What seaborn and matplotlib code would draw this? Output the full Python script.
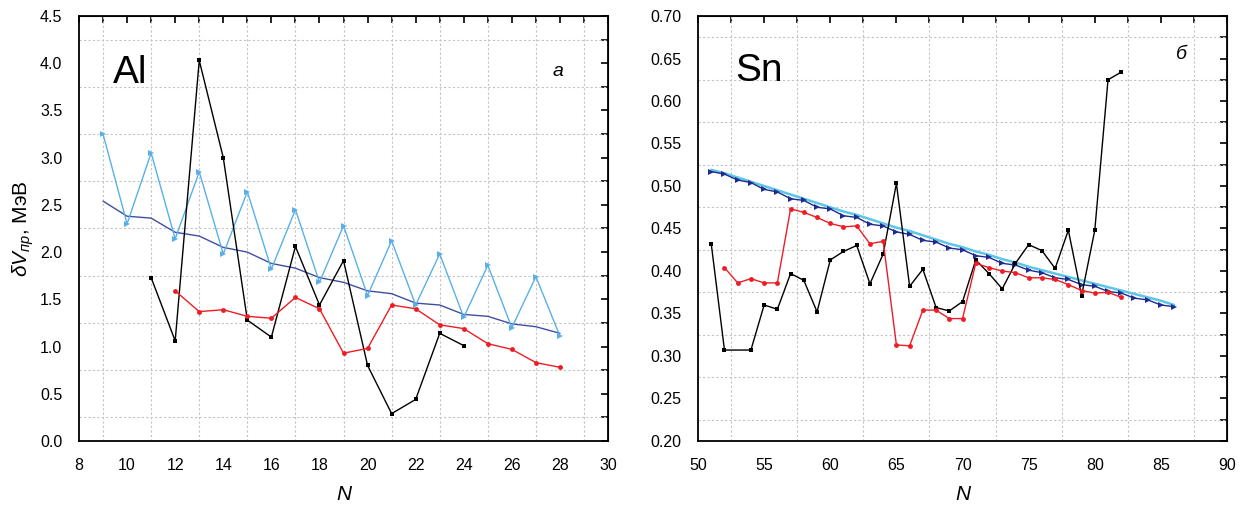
import numpy as np
import pandas as pd
import matplotlib
matplotlib.use("Agg")
import matplotlib.pyplot as plt
from matplotlib.ticker import MultipleLocator, FormatStrFormatter
import seaborn as sns

# Al panel
al_n_all = list(range(9, 29))
al_tri = [3.25, 2.30, 3.05, 2.14, 2.85, 1.98, 2.64, 1.82, 2.45, 1.68,
          2.28, 1.54, 2.12, 1.44, 1.98, 1.31, 1.86, 1.20, 1.74, 1.11]
al_smooth = [2.54, 2.38, 2.36, 2.21, 2.17, 2.05, 2.00, 1.88, 1.83, 1.73,
             1.68, 1.59, 1.56, 1.46, 1.44, 1.34, 1.32, 1.24, 1.21, 1.14]
al_n_black = list(range(11, 25))
al_black = [1.73, 1.06, 4.03, 3.00, 1.28, 1.10, 2.06, 1.44, 1.91, 0.80,
            0.29, 0.44, 1.14, 1.01]
al_n_red = list(range(12, 29))
al_red = [1.59, 1.37, 1.39, 1.32, 1.30, 1.52, 1.40, 0.93, 0.98, 1.44,
          1.40, 1.23, 1.19, 1.03, 0.97, 0.83, 0.78]

# Sn panel
sn_n_all = list(range(51, 87))
sn_tri = [0.517, 0.514, 0.507, 0.504, 0.496, 0.493, 0.485, 0.483, 0.475, 0.473,
          0.465, 0.463, 0.455, 0.453, 0.446, 0.443, 0.436, 0.434, 0.427, 0.425,
          0.418, 0.416, 0.409, 0.407, 0.401, 0.398, 0.392, 0.390, 0.384, 0.382,
          0.376, 0.374, 0.368, 0.366, 0.360, 0.358]
sn_smooth = [0.519, 0.515, 0.510, 0.505, 0.500, 0.495, 0.490, 0.485, 0.480, 0.475,
             0.470, 0.466, 0.461, 0.456, 0.451, 0.447, 0.442, 0.437, 0.432, 0.428,
             0.423, 0.419, 0.414, 0.410, 0.405, 0.401, 0.397, 0.393, 0.389, 0.385,
             0.381, 0.377, 0.373, 0.369, 0.365, 0.360]
sn_n_black = [51, 52] + list(range(54, 83))
sn_black = [0.432, 0.307, 0.307, 0.360, 0.355, 0.397, 0.389, 0.352, 0.413, 0.423,
            0.430, 0.385, 0.420, 0.503, 0.382, 0.402, 0.357, 0.353, 0.364, 0.413,
            0.397, 0.379, 0.409, 0.431, 0.424, 0.403, 0.448, 0.371, 0.448, 0.625,
            0.634]
sn_n_red = list(range(52, 83))
sn_red = [0.404, 0.386, 0.391, 0.386, 0.386, 0.473, 0.469, 0.463, 0.456, 0.452,
          0.453, 0.432, 0.435, 0.313, 0.312, 0.354, 0.354, 0.344, 0.344, 0.409,
          0.404, 0.400, 0.398, 0.392, 0.392, 0.390, 0.384, 0.377, 0.374, 0.375,
          0.369]

sns.set_style("white")
plt.rcParams['font.family'] = ['Liberation Sans', 'DejaVu Sans']
plt.rcParams['mathtext.fontset'] = 'custom'
plt.rcParams['mathtext.rm'] = 'Liberation Sans'
plt.rcParams['mathtext.it'] = 'Liberation Sans:italic'
for key in ['text.color', 'axes.labelcolor', 'xtick.color', 'ytick.color']:
    plt.rcParams[key] = 'black'

fig = plt.figure(figsize=(12.46, 5.08), dpi=100)
ax1 = fig.add_axes([0.0634, 0.1319, 0.4246, 0.8366])
ax2 = fig.add_axes([0.5602, 0.1319, 0.4246, 0.8366])

lw = 1.0
# Al
sns.lineplot(x=al_n_all, y=al_smooth, ax=ax1, color="#3f4ea3", lw=lw)
sns.lineplot(x=al_n_all, y=al_tri, ax=ax1, color="#5ab0e6", lw=lw,
             marker=">", markersize=4.5, markeredgewidth=0)
sns.lineplot(x=al_n_black, y=al_black, ax=ax1, color="black", lw=lw,
             marker="s", markersize=3.5, markeredgewidth=0)
sns.lineplot(x=al_n_red, y=al_red, ax=ax1, color="#ee1c24", lw=lw,
             marker="o", markersize=3.5, markeredgewidth=0)

# Sn
sns.lineplot(x=sn_n_all, y=sn_smooth, ax=ax2, color="#5cc6e8", lw=1.8)
sns.lineplot(x=sn_n_all, y=sn_tri, ax=ax2, color="#1f2b8f", lw=lw,
             marker=">", markersize=4.5, markeredgewidth=0)
sns.lineplot(x=sn_n_black, y=sn_black, ax=ax2, color="black", lw=lw,
             marker="s", markersize=3.5, markeredgewidth=0)
sns.lineplot(x=sn_n_red, y=sn_red, ax=ax2, color="#ee1c24", lw=lw,
             marker="o", markersize=3.5, markeredgewidth=0)

settings = [
    (ax1, (8, 30), 2, (0, 4.5), 0.5, "%.1f", "Al", (0.065, 0.865), "a", (0.895, 0.87)),
    (ax2, (50, 90), 5, (0.2, 0.7), 0.05, "%.2f", "Sn", (0.07, 0.87), "б", (0.903, 0.91)),
]
for ax, xl, xs, yl, ys, fmt, elem, epos, letter, lpos in settings:
    ax.set_xlim(*xl)
    ax.set_ylim(*yl)
    ax.xaxis.set_major_locator(MultipleLocator(xs))
    ax.xaxis.set_minor_locator(MultipleLocator(xs, offset=xs / 2))
    ax.yaxis.set_major_locator(MultipleLocator(ys))
    ax.yaxis.set_minor_locator(MultipleLocator(ys, offset=ys / 2))
    ax.yaxis.set_major_formatter(FormatStrFormatter(fmt))
    ax.grid(False)
    ax.grid(which="minor", axis="both", color="#c4c4c4", ls=(0, (2, 2)), lw=0.8)
    for sp in ax.spines.values():
        sp.set_linewidth(1.3)
        sp.set_color("black")
    ax.tick_params(which="major", direction="out", length=5, width=1.2,
                   labelsize=11.5, pad=7)
    ax.tick_params(which="minor", direction="out", length=3, width=1.0)
    top = ax.secondary_xaxis("top")
    top.xaxis.set_major_locator(MultipleLocator(xs / 2))
    top.tick_params(direction="in", length=5, width=1.2, labeltop=False)
    right = ax.secondary_yaxis("right")
    right.yaxis.set_major_locator(MultipleLocator(ys / 2))
    right.tick_params(direction="in", length=5, width=1.2, labelright=False)
    ax.set_xlabel("N", style="italic", fontsize=15, labelpad=9)
    ax.text(*epos, elem, transform=ax.transAxes, fontsize=28,
            ha="left", va="center")
    ax.text(*lpos, letter, transform=ax.transAxes, fontsize=14,
            style="italic", ha="left", va="center")

ax1.set_ylabel(r"$\delta V_{\mathit{пр}}$, МэВ", fontsize=15, labelpad=3)
ax2.set_ylabel("")

fig.savefig("out.png", dpi=100)
